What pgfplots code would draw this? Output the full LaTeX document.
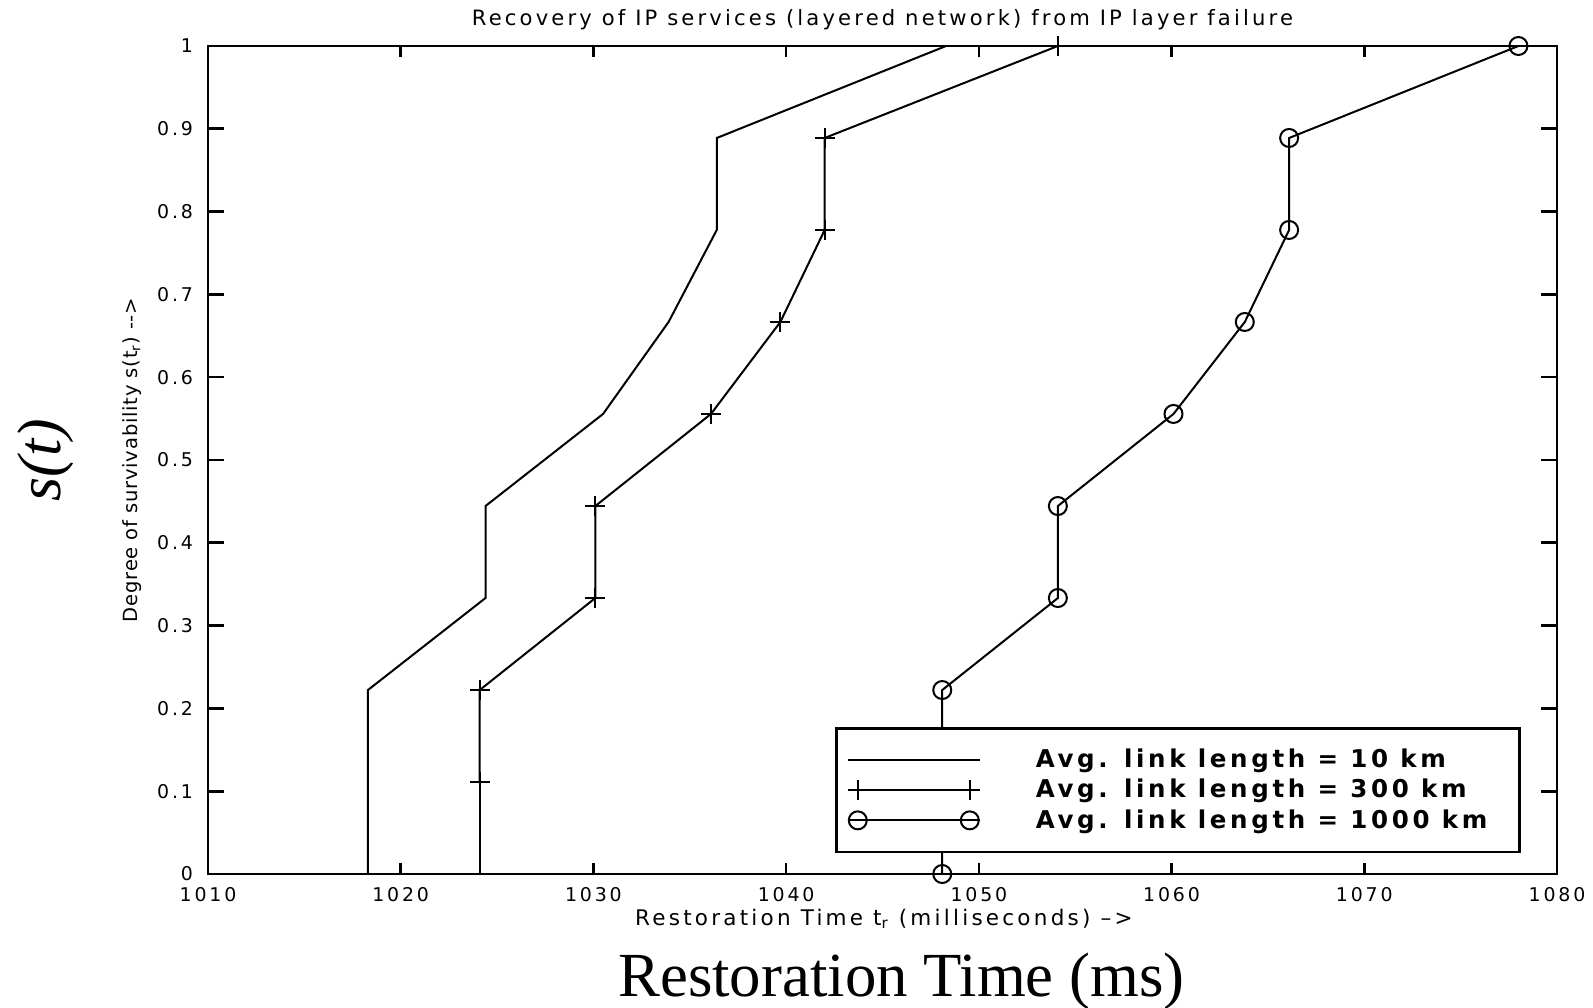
\documentclass[border=0pt]{standalone}
\usepackage{fontspec}
\setmainfont[LetterSpace=15]{DejaVu Sans}
\newfontfamily\pixy[LetterSpace=4]{DejaVu Sans}
\newfontfamily\timesfont{Liberation Serif}
\usepackage{pgfplots}
\pgfplotsset{compat=1.18}
\begin{document}
\begin{tikzpicture}
\path[use as bounding box] (-104bp,-67bp) rectangle (692.5bp,437bp);
\begin{axis}[
  at={(0,0)}, anchor=south west,
  scale only axis, width=674.5bp, height=414bp,
  xmin=1010, xmax=1080, ymin=0, ymax=1,
  xtick={1010,1020,1030,1040,1050,1060,1070,1080},
  ytick={0,0.1,0.2,0.3,0.4,0.5,0.6,0.7,0.8,0.9,1},
  yticklabels={0,0.1,0.2,0.3,0.4,0.5,0.6,0.7,0.8,0.9,1},
  /pgf/number format/1000 sep={},
  minor tick num=0,
  tick align=inside,
  axis line style={line width=1.3bp},
  every tick/.style={black, line width=1.3bp},
  xtick style={/pgfplots/major tick length=5.5bp},
  ytick style={/pgfplots/major tick length=8bp},
  /pgf/number format/assume math mode=true,
  ticklabel style={font=\fontsize{9.5}{11}\selectfont},
  xticklabel style={yshift=-3bp},
  yticklabel style={xshift=-4bp},
  title={Recovery of IP services (layered network) from IP layer failure},
  title style={at={(axis description cs:0.5,1)}, anchor=base, yshift=4.5bp, font=\fontsize{10.6}{12}\selectfont},
  xlabel={Restoration Time t\textsubscript{r} (milliseconds) -->},
  xlabel style={at={(axis description cs:0.501,-0.0543)}, anchor=center, font=\fontsize{10.8}{12}\selectfont},
  ylabel={Degree of survivability s(t\textsubscript{r}) -->},
  ylabel style={at={(axis description cs:-0.0563,0.5)}, anchor=center, font=\pixy\fontsize{9.8}{11}\selectfont},
  legend style={at={(axis description cs:0.973,0.1775)}, anchor=north east,
    draw=black, line width=1.3bp, fill=white,
    font=\bfseries\fontsize{12.3}{14}\selectfont,
    inner xsep=5bp, inner ysep=9.4bp,
    nodes={inner sep=1bp},
    row sep=2.3bp,
    /tikz/every odd column/.append style={column sep=26.5bp}},
  legend cell align=left,
  clip=false,
]
\addplot[black, line width=1bp,
  legend image code/.code={\path (-5bp,0bp) -- (61bp,0bp);\draw[black, line width=1bp] (0bp,0bp) -- (56bp,0bp);}]
  coordinates {(1018.3,0) (1018.3,0.1111) (1018.3,0.2222) (1024.4,0.3333) (1024.4,0.4444)
  (1030.5,0.5556) (1033.9,0.6667) (1036.4,0.7778) (1036.4,0.8889) (1048.3,1)};
\addlegendentry{Avg. link length = 10 km}
\addplot[black, line width=1bp, forget plot]
  coordinates {(1024.1,0) (1024.1,0.1111)};
\addplot[black, line width=1bp, mark=+, mark size=5bp, mark options={solid, line width=1bp},
  legend image code/.code={\path (-5bp,0bp) -- (61bp,0bp);\draw[black, line width=1bp, mark=+, mark size=5bp] plot coordinates {(0bp,0bp) (56bp,0bp)};}]
  coordinates {(1024.1,0.1111) (1024.1,0.2222) (1030.1,0.3333) (1030.1,0.4444)
  (1036.1,0.5556) (1039.7,0.6667) (1042.0,0.7778) (1042.0,0.8889) (1054.1,1)};
\addlegendentry{Avg. link length = 300 km}
\addplot[black, line width=1bp, mark=o, mark size=4.5bp, mark options={solid, line width=1bp},
  legend image code/.code={\path (-5bp,0bp) -- (61bp,0bp);\draw[black, line width=1bp, mark=o, mark size=4.5bp] plot coordinates {(0bp,0bp) (56bp,0bp)};}]
  coordinates {(1048.1,0) (1048.1,0.2222) (1054.1,0.3333) (1054.1,0.4444)
  (1060.1,0.5556) (1063.8,0.6667) (1066.1,0.7778) (1066.1,0.8889) (1078.0,1)};
\addlegendentry{Avg. link length = 1000 km\rule{10bp}{0pt}}
\node[anchor=base, font=\timesfont\fontsize{31.5}{35}\selectfont] at (axis description cs:0.514,-0.148) {Restoration Time (ms)};
\node[rotate=90, anchor=center, font=\timesfont\itshape\fontsize{31}{35}\selectfont] at (axis description cs:-0.120,0.5) {s(t)};
\end{axis}
\end{tikzpicture}
\end{document}
